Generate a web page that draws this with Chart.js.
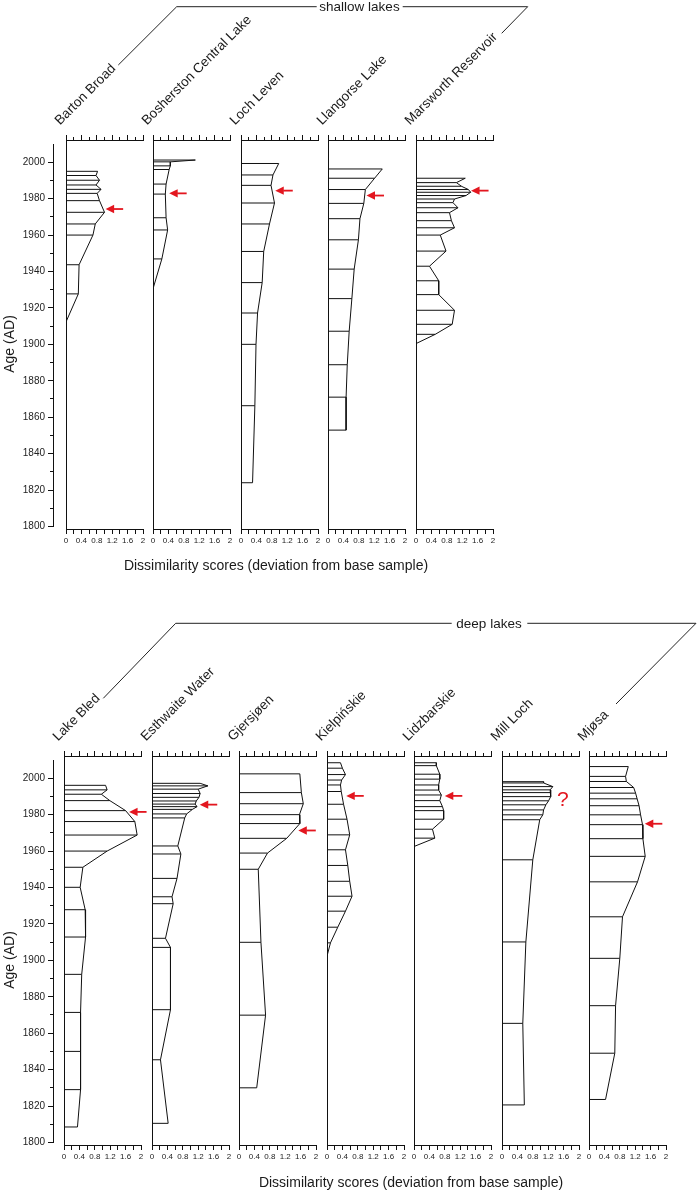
<!DOCTYPE html>
<html>
<head>
<meta charset="utf-8">
<title>Dissimilarity scores, shallow and deep lakes</title>
<script src="https://cdn.jsdelivr.net/npm/chart.js@4.4.1/dist/chart.umd.min.js"></script>
<style>
  html, body { margin: 0; padding: 0; background: #fff; }
  #page { position: relative; width: 697px; height: 1190px; overflow: hidden; background: #fff; }
  #page canvas { position: absolute; }
  #overlay { position: absolute; left: 0; top: 0; pointer-events: none; }
</style>
</head>
<body>
<div id="page">
  <svg id="overlay" width="697" height="1190"></svg>
</div>
<script>
// ---- data: sample age (AD) and dissimilarity score ----

// shallow lakes
const bartonAges = [1995.0, 1992.7, 1990.1, 1987.5, 1985.1, 1982.9, 1978.9, 1972.5, 1966.1, 1960.0, 1943.7, 1927.7, 1912.3];
const bartonValues = [0.82, 0.78, 0.87, 0.78, 0.91, 0.81, 0.87, 1.00, 0.76, 0.70, 0.34, 0.32, 0];

const boshAges = [2001.2, 2000.2, 1998.0, 1996.0, 1988.0, 1982.5, 1969.5, 1962.8, 1946.9, 1930.5];
const boshValues = [1.10, 0.45, 0.45, 0.42, 0.34, 0.32, 0.34, 0.38, 0.23, 0];

const levenAges = [1999.3, 1993.0, 1987.3, 1977.6, 1966.1, 1951.0, 1933.9, 1917.2, 1900.0, 1866.3, 1824.0];
const levenValues = [0.98, 0.83, 0.78, 0.87, 0.74, 0.59, 0.55, 0.43, 0.39, 0.36, 0.30];

const llangorseAges = [1996.3, 1991.2, 1985.0, 1977.4, 1969.0, 1957.4, 1941.3, 1925.1, 1907.2, 1888.8, 1871.0, 1852.9];
const llangorseValues = [1.41, 1.21, 0.97, 0.93, 0.83, 0.79, 0.68, 0.62, 0.55, 0.50, 0.47, 0.47];

const marsworthAges = [1991.2, 1988.8, 1986.8, 1985.0, 1983.5, 1981.7, 1979.8, 1977.8, 1975.0, 1972.3, 1967.9,
  1964.0, 1960.0, 1951.2, 1942.9, 1934.9, 1927.3, 1918.7, 1911.0, 1905.5, 1900.4];
const marsworthValues = [1.28, 1.05, 1.18, 1.36, 1.42, 1.30, 1.00, 0.96, 1.09, 0.87, 0.92,
  1.00, 0.63, 0.78, 0.35, 0.59, 0.59, 1.00, 0.94, 0.50, 0];

// deep lakes
const bledAges = [1996.1, 1993.6, 1991.2, 1987.7, 1982.2, 1976.2, 1968.8, 1960.0, 1951.1, 1940.1, 1927.8,
  1912.8, 1892.3, 1871.4, 1850.0, 1829.0, 1808.5];
const bledValues = [1.08, 1.12, 0.97, 1.19, 1.60, 1.84, 1.90, 1.12, 0.49, 0.42, 0.55,
  0.56, 0.46, 0.43, 0.43, 0.43, 0.35];

const esthwaiteAges = [1997.2, 1995.8, 1994.0, 1991.6, 1989.5, 1987.5, 1985.8, 1984.4, 1982.9, 1980.4, 1978.2,
  1962.8, 1958.4, 1945.0, 1934.9, 1931.1, 1912.1, 1907.1, 1872.9, 1845.4, 1810.5];
const esthwaiteValues = [1.25, 1.45, 1.20, 1.25, 1.22, 1.15, 1.12, 1.17, 1.05, 0.90, 0.85,
  0.67, 0.75, 0.65, 0.52, 0.55, 0.35, 0.48, 0.48, 0.22, 0.42];

const gjersjoenAges = [2002.4, 1992.1, 1986.0, 1980.0, 1975.1, 1967.0, 1958.9, 1950.0, 1909.9, 1869.9, 1830.0];
const gjersjoenValues = [1.58, 1.62, 1.67, 1.57, 1.58, 1.24, 0.74, 0.50, 0.57, 0.69, 0.46];

const kielpAges = [2008.5, 2005.5, 2002.0, 1999.0, 1996.3, 1992.7, 1985.7, 1977.5, 1968.9, 1960.7, 1952.1,
  1943.4, 1935.2, 1927.0, 1918.2, 1909.6, 1902.3];
const kielpValues = [0.35, 0.40, 0.48, 0.38, 0.35, 0.37, 0.43, 0.52, 0.59, 0.48, 0.54,
  0.59, 0.65, 0.48, 0.28, 0.09, 0];

const lidzAges = [2008.5, 2006.9, 2002.2, 1999.5, 1996.3, 1993.5, 1990.8, 1987.7, 1984.4, 1982.2, 1977.5,
  1972.0, 1967.1, 1962.5];
const lidzValues = [0.58, 0.58, 0.67, 0.67, 0.64, 0.64, 0.71, 0.67, 0.74, 0.77, 0.77, 0.48, 0.54, 0];

const millAges = [1998.1, 1997.4, 1995.4, 1993.6, 1992.1, 1989.9, 1987.6, 1985.4, 1982.6, 1979.9, 1977.2,
  1955.2, 1910.1, 1865.4, 1820.6];
const millValues = [1.08, 1.08, 1.32, 1.25, 1.27, 1.26, 1.21, 1.14, 1.08, 1.06, 0.98, 0.80, 0.62, 0.54, 0.58];

const mjosaAges = [2006.4, 2001.0, 1998.2, 1994.9, 1991.8, 1988.7, 1984.9, 1979.9, 1974.5, 1966.8, 1957.1,
  1943.1, 1923.9, 1901.1, 1875.1, 1849.0, 1823.6];
const mjosaValues = [1.02, 0.95, 0.97, 1.16, 1.21, 1.25, 1.30, 1.34, 1.39, 1.40, 1.46,
  1.26, 0.87, 0.80, 0.69, 0.67, 0.43];

// names, red arrows (value, age) and the Mill Loch question mark
const shallowNames = ['Barton Broad', 'Bosherston Central Lake', 'Loch Leven', 'Llangorse Lake', 'Marsworth Reservoir'];
const shallowArrowValues = [1.03, 0.42, 0.89, 1.00, 1.43];
const shallowArrowAges = [1974.3, 1982.9, 1984.4, 1981.7, 1984.4];

const deepNames = ['Lake Bled', 'Esthwaite Water', 'Gjersjøen', 'Kielpińskie', 'Lidzbarskie', 'Mill Loch', 'Mjøsa'];
const deepArrowValues = [1.69, 1.24, 1.54, 0.50, 0.80, null, 1.45];
const deepArrowAges = [1981.5, 1985.5, 1971.3, 1990.3, 1990.3, null, 1975.0];
const millNoteValue = 1.58, millNoteAge = 1988.1;

// axis ticks
const xTickLabels = ['0', '0.4', '0.8', '1.2', '1.6', '2'];
const xMax = 2;
const ageMin = 1800, ageMax = 2010, ageLastTick = 2000;

// ---- layout ----
const FONT = '"Liberation Sans", Arial, Helvetica, sans-serif';
const INK = '#111';
const TEXT = '#1a1a1a';
const RED = '#e3161f';

const SUB_W = 77;          // pixel width of one 0..2 panel
const SUB_STEP = 87.5;     // distance between panel left edges
const AREA_H = 389;        // from top tick axis to bottom tick axis
const Y_MIN = 1798.6, Y_MAX = 2012.2;   // age at bottom / top tick axis
const PAD_L = 10, PAD_R = 32, PAD_T = 10, PAD_B = 4, X_AXIS_H = 22;
const AGE_AXIS_X = 53;

Chart.defaults.font.family = FONT;
Chart.defaults.color = TEXT;

const panels = [
  {
    top: 140, left0: 65.5, names: shallowNames,
    ages: [bartonAges, boshAges, levenAges, llangorseAges, marsworthAges],
    values: [bartonValues, boshValues, levenValues, llangorseValues, marsworthValues],
    arrowValues: shallowArrowValues, arrowAges: shallowArrowAges,
    ageTitleY: 344, xTitle: [276, 565]
  },
  {
    top: 756, left0: 64.3, names: deepNames,
    ages: [bledAges, esthwaiteAges, gjersjoenAges, kielpAges, lidzAges, millAges, mjosaAges],
    values: [bledValues, esthwaiteValues, gjersjoenValues, kielpValues, lidzValues, millValues, mjosaValues],
    arrowValues: deepArrowValues, arrowAges: deepArrowAges,
    ageTitleY: 960, xTitle: [411, 1181.5]
  }
];

const page = document.getElementById('page');
const svg = document.getElementById('overlay');

function addCanvas(left, top, w, h) {
  const c = document.createElement('canvas');
  c.width = w;
  c.height = h;
  c.style.left = left + 'px';
  c.style.top = top + 'px';
  c.style.width = w + 'px';
  c.style.height = h + 'px';
  page.insertBefore(c, svg);
  return c;
}

function svgEl(tag, attrs, text) {
  const el = document.createElementNS('http://www.w3.org/2000/svg', tag);
  for (const k in attrs) el.setAttribute(k, attrs[k]);
  if (text) el.textContent = text;
  svg.appendChild(el);
  return el;
}

// one horizontal rung per sample, from 0 to its score, broken by gaps
function rungs(ages, values) {
  const pts = [];
  ages.forEach((a, i) => {
    pts.push({ x: 0, y: a }, { x: values[i], y: a }, { x: NaN, y: NaN });
  });
  return pts;
}

function profile(ages, values) {
  return ages.map((a, i) => ({ x: values[i], y: a }));
}

// red arrows and the "?" are placed through the chart's own scales
const marksPlugin = {
  id: 'marks',
  afterDatasetsDraw(chart, args, opts) {
    const { ctx } = chart;
    const x = chart.scales.x, y = chart.scales.y;
    ctx.save();
    if (opts.arrowValue != null) {
      const px = x.getPixelForValue(opts.arrowValue);
      const py = y.getPixelForValue(opts.arrowAge);
      ctx.fillStyle = RED;
      ctx.strokeStyle = RED;
      ctx.beginPath();
      ctx.moveTo(px, py);
      ctx.lineTo(px + 8.5, py - 4.2);
      ctx.lineTo(px + 8.5, py + 4.2);
      ctx.closePath();
      ctx.fill();
      ctx.lineWidth = 1.8;
      ctx.beginPath();
      ctx.moveTo(px + 8, py);
      ctx.lineTo(px + 17.5, py);
      ctx.stroke();
    }
    if (opts.note) {
      ctx.fillStyle = RED;
      ctx.font = '21px ' + FONT;
      ctx.textAlign = 'center';
      ctx.textBaseline = 'middle';
      ctx.fillText(opts.note, x.getPixelForValue(opts.noteValue), y.getPixelForValue(opts.noteAge));
    }
    ctx.restore();
  }
};

function pixForAge(panel, age) {
  return panel.top + (Y_MAX - age) * AREA_H / (Y_MAX - Y_MIN);
}

// Age (AD) axis of a panel
function drawAgeAxis(panel) {
  const aTop = pixForAge(panel, ageMax);
  const aBot = pixForAge(panel, ageMin);
  const cTop = Math.floor(aTop) - 10;
  const cH = Math.ceil(aBot) + 10 - cTop;
  const cW = AGE_AXIS_X + 6;
  const canvas = addCanvas(0, cTop, cW, cH);
  new Chart(canvas, {
    type: 'scatter',
    data: { datasets: [] },
    options: {
      responsive: false, animation: false, events: [], devicePixelRatio: 1,
      layout: { padding: { left: 0, right: 4, top: aTop - cTop, bottom: cTop + cH - aBot } },
      plugins: { legend: { display: false }, tooltip: { enabled: false } },
      scales: {
        x: { display: false, min: 0, max: 1 },
        yMinor: {
          type: 'linear', axis: 'y', position: 'left', weight: 0,
          min: ageMin, max: ageMax,
          ticks: { display: false, stepSize: 10 },
          grid: {
            drawOnChartArea: false, tickLength: 3,
            tickColor: (c) => (c.tick && c.tick.value > ageLastTick ? 'rgba(0,0,0,0)' : INK)
          },
          border: { display: false },
          afterFit: (s) => { s.width = 0; }
        },
        y: {
          type: 'linear', position: 'left', weight: 1,
          min: ageMin, max: ageMax,
          ticks: {
            stepSize: 20, includeBounds: false, padding: 3, color: '#222', font: { size: 10 },
            callback: (v) => String(v)
          },
          grid: { drawOnChartArea: false, tickLength: 5, color: INK },
          border: { display: true, color: INK, width: 1 },
          afterFit: (s) => { s.width = AGE_AXIS_X; }
        }
      }
    }
  });
  svgEl('text', {
    transform: `translate(8.5,${panel.ageTitleY}) rotate(-90)`,
    'text-anchor': 'middle', 'dominant-baseline': 'central',
    'font-size': 14, 'font-family': FONT, fill: TEXT
  }, 'Age (AD)');
}

function drawLake(panel, i) {
  const left = Math.round(panel.left0 + i * SUB_STEP);
  const ages = panel.ages[i], values = panel.values[i];
  const cW = PAD_L + SUB_W + PAD_R;
  const cH = PAD_T + AREA_H + X_AXIS_H + PAD_B;
  const canvas = addCanvas(left - PAD_L, panel.top - PAD_T, cW, cH);
  const marks = { arrowValue: panel.arrowValues[i], arrowAge: panel.arrowAges[i] };
  if (panel.names[i] === 'Mill Loch') {
    marks.note = '?';
    marks.noteValue = millNoteValue;
    marks.noteAge = millNoteAge;
  }
  new Chart(canvas, {
    type: 'scatter',
    data: {
      datasets: [
        {
          data: rungs(ages, values), xAxisID: 'x', yAxisID: 'y',
          showLine: true, spanGaps: false, borderColor: INK, borderWidth: 1, pointRadius: 0
        },
        {
          data: profile(ages, values), xAxisID: 'x', yAxisID: 'y',
          showLine: true, borderColor: INK, borderWidth: 1, pointRadius: 0, tension: 0
        }
      ]
    },
    options: {
      responsive: false, animation: false, events: [], devicePixelRatio: 1,
      layout: { padding: { left: PAD_L, right: PAD_R, top: PAD_T, bottom: PAD_B } },
      plugins: { legend: { display: false }, tooltip: { enabled: false }, marks },
      scales: {
        x: {
          type: 'linear', position: 'bottom', min: 0, max: xMax,
          ticks: {
            stepSize: 0.2, autoSkip: false, maxRotation: 0, minRotation: 0, padding: 2,
            color: '#222', font: { size: 8 },
            callback: (v, idx) => (idx % 2 === 0 ? xTickLabels[idx / 2] : '')
          },
          grid: { drawOnChartArea: false, tickLength: 5, color: INK },
          border: { display: true, color: INK, width: 1 },
          afterFit: (s) => { s.height = X_AXIS_H; }
        },
        xTop: {
          type: 'linear', axis: 'x', position: 'top', min: 0, max: xMax,
          ticks: { display: false, stepSize: 0.4 },
          grid: { drawOnChartArea: false, tickLength: 5, color: INK },
          border: { display: true, color: INK, width: 1 },
          afterFit: (s) => { s.height = 0; }
        },
        xTopMinor: {
          type: 'linear', axis: 'x', position: 'top', min: 0, max: xMax,
          ticks: { display: false, stepSize: 0.2 },
          grid: { drawOnChartArea: false, tickLength: 3, color: INK },
          border: { display: false },
          afterFit: (s) => { s.height = 0; }
        },
        y: {
          type: 'linear', position: 'left', min: Y_MIN, max: Y_MAX,
          ticks: { display: false },
          grid: { display: false, drawTicks: false },
          border: { display: true, color: INK, width: 1 },
          afterFit: (s) => { s.width = 0; }
        }
      }
    },
    plugins: [marksPlugin]
  });

  // rotated lake name ending at the panel's top-left corner
  svgEl('text', {
    transform: `translate(${left - 6},${panel.top - 14.5}) rotate(-45)`,
    'font-size': 13.5, 'font-family': FONT, fill: TEXT
  }, panel.names[i]);
}

panels.forEach((panel) => {
  drawAgeAxis(panel);
  panel.names.forEach((n, i) => drawLake(panel, i));
  svgEl('text', {
    x: panel.xTitle[0], y: panel.xTitle[1],
    'text-anchor': 'middle', 'dominant-baseline': 'central',
    'font-size': 14, 'font-family': FONT, fill: TEXT
  }, 'Dissimilarity scores (deviation from base sample)');
});

// group brackets
const lineStyle = { fill: 'none', stroke: '#222', 'stroke-width': 1 };
svgEl('polyline', Object.assign({ points: '118.3,65 176.7,6.7 316.7,6.7' }, lineStyle));
svgEl('polyline', Object.assign({ points: '402.7,6.7 527.7,6.7 501.7,33.3' }, lineStyle));
svgEl('text', {
  x: 359.5, y: 6.7, 'text-anchor': 'middle', 'dominant-baseline': 'central',
  'font-size': 13.5, 'font-family': FONT, fill: TEXT
}, 'shallow lakes');

svgEl('polyline', Object.assign({ points: '103.3,698.3 175.7,623.3 451.7,623.3' }, lineStyle));
svgEl('polyline', Object.assign({ points: '527.3,623.3 696,623.3 616,704' }, lineStyle));
svgEl('text', {
  x: 489, y: 623.3, 'text-anchor': 'middle', 'dominant-baseline': 'central',
  'font-size': 13.5, 'font-family': FONT, fill: TEXT
}, 'deep lakes');
</script>
</body>
</html>
